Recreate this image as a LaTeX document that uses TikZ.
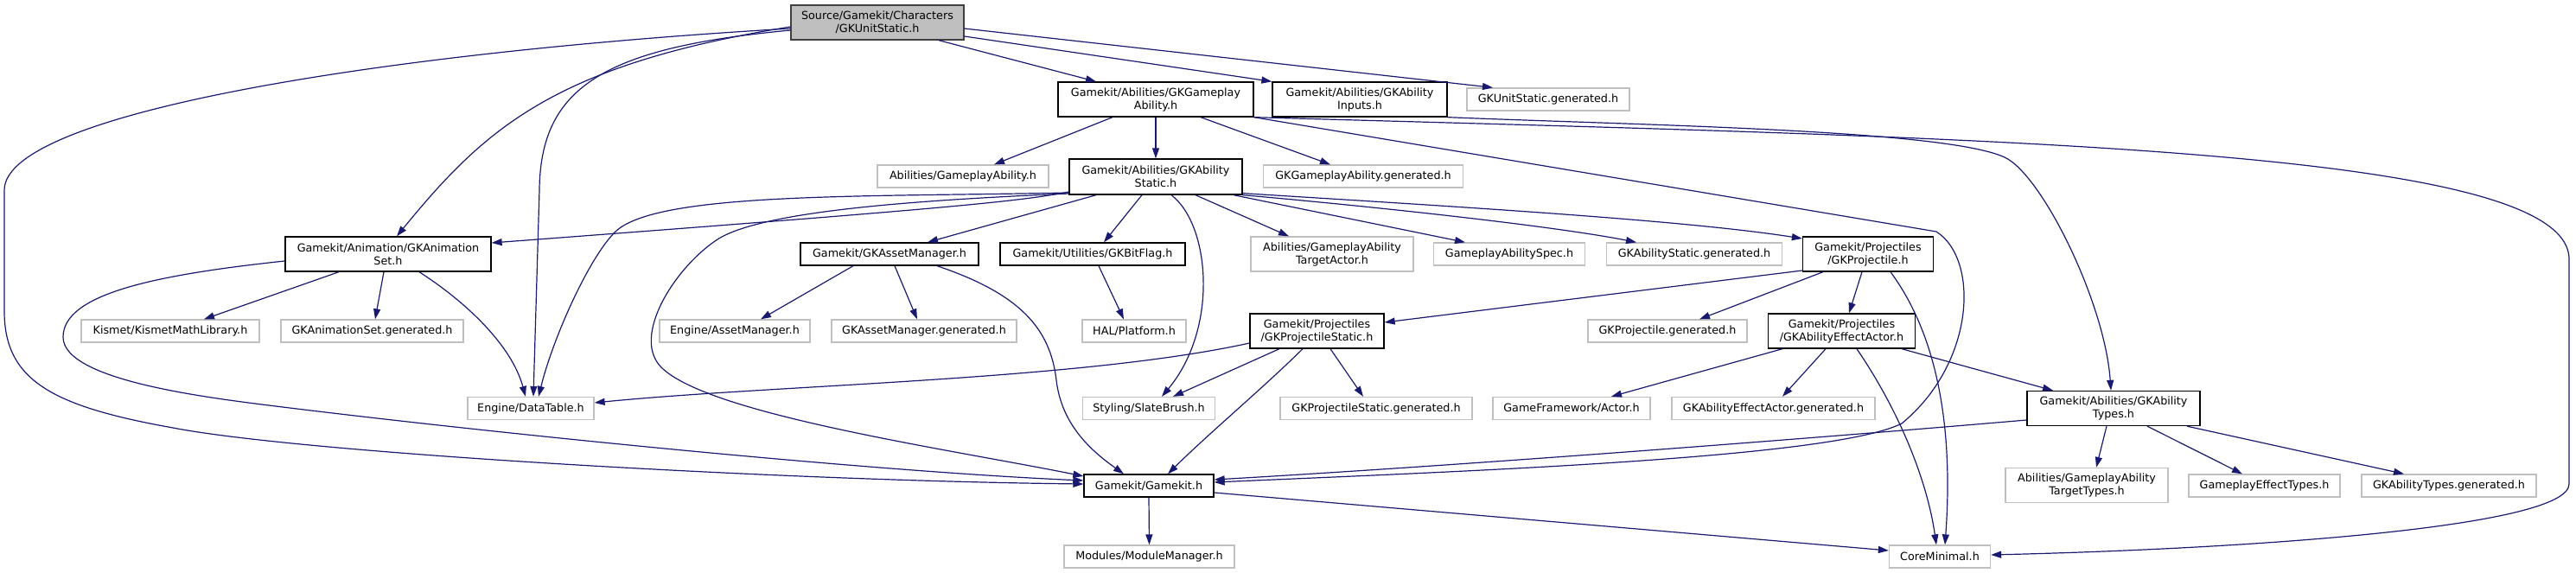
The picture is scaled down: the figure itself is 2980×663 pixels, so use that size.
\documentclass[tikz,border=0pt]{standalone}
\usepackage{fontspec}
\setmainfont{DejaVu Sans}
\usetikzlibrary{arrows.meta}
\definecolor{edgeblue}{HTML}{191970}
\definecolor{extgray}{HTML}{BFBFBF}
\definecolor{rootborder}{HTML}{404040}
\tikzset{
 box/.style={rectangle, inner sep=0pt, align=center, font=\fontsize{12.75pt}{15pt}\selectfont, fill=white, line width=1.3pt},
 proj/.style={box, draw=black},
 ext/.style={box, draw=extgray},
 root/.style={box, draw=rootborder, fill=extgray},
 one/.style={minimum height=26pt},
 two/.style={minimum height=40pt},
 edge/.style={draw=edgeblue, line width=1.2pt, -{Triangle[length=12pt,width=8pt]}},
}
\begin{document}
\begin{tikzpicture}[x=1pt,y=-1pt]
\useasboundingbox (0,0) rectangle (2980,663);
% nodes
\node[root,two,minimum width=200pt] (n0) at (1015,26) {Source/Gamekit/Characters\\/GKUnitStatic.h};
\node[proj,two,minimum width=226pt] (n1) at (1337,115) {Gamekit/Abilities/GKGameplay\\Ability.h};
\node[proj,two,minimum width=202pt] (n2) at (1573,115) {Gamekit/Abilities/GKAbility\\Inputs.h};
\node[ext,one,minimum width=188pt] (n3) at (1791,115) {GKUnitStatic.generated.h};
\node[ext,one,minimum width=198pt] (n4) at (1114,204) {Abilities/GameplayAbility.h};
\node[proj,minimum height=41pt,minimum width=200pt] (n5) at (1337,204.5) {Gamekit/Abilities/GKAbility\\Static.h};
\node[ext,one,minimum width=231pt] (n6) at (1577,204) {GKGameplayAbility.generated.h};
\node[proj,two,minimum width=238pt] (n7) at (449,294) {Gamekit/Animation/GKAnimation\\Set.h};
\node[proj,one,minimum width=206pt] (n8) at (1029,294) {Gamekit/GKAssetManager.h};
\node[proj,one,minimum width=214pt] (n9) at (1264,294) {Gamekit/Utilities/GKBitFlag.h};
\node[ext,two,minimum width=188pt] (n10) at (1541,294) {Abilities/GameplayAbility\\TargetActor.h};
\node[ext,one,minimum width=175pt] (n11) at (1746,294) {GameplayAbilitySpec.h};
\node[ext,one,minimum width=203pt] (n12) at (1960,294) {GKAbilityStatic.generated.h};
\node[proj,two,minimum width=151pt] (n13) at (2161,294) {Gamekit/Projectiles\\/GKProjectile.h};
\node[ext,one,minimum width=206pt] (n14) at (197,383) {Kismet/KismetMathLibrary.h};
\node[ext,one,minimum width=211pt] (n15) at (430.5,383) {GKAnimationSet.generated.h};
\node[ext,one,minimum width=174pt] (n16) at (850,383) {Engine/AssetManager.h};
\node[ext,one,minimum width=214pt] (n17) at (1069,383) {GKAssetManager.generated.h};
\node[ext,one,minimum width=120pt] (n18) at (1312,383) {HAL/Platform.h};
\node[proj,two,minimum width=155pt] (n19) at (1523.5,383) {Gamekit/Projectiles\\/GKProjectileStatic.h};
\node[ext,one,minimum width=184pt] (n20) at (1929,383) {GKProjectile.generated.h};
\node[proj,two,minimum width=170pt] (n21) at (2130.5,383) {Gamekit/Projectiles\\/GKAbilityEffectActor.h};
\node[ext,one,minimum width=146pt] (n22) at (614,472.5) {Engine/DataTable.h};
\node[ext,one,minimum width=153pt] (n23) at (1329,472.5) {Styling/SlateBrush.h};
\node[ext,one,minimum width=222pt] (n24) at (1592,472.5) {GKProjectileStatic.generated.h};
\node[ext,one,minimum width=182pt] (n25) at (1818,472.5) {GameFramework/Actor.h};
\node[ext,one,minimum width=235pt] (n26) at (2051.5,472.5) {GKAbilityEffectActor.generated.h};
\node[proj,two,minimum width=200pt] (n27) at (2445,472.5) {Gamekit/Abilities/GKAbility\\Types.h};
\node[proj,one,minimum width=150pt] (n28) at (1329,562) {Gamekit/Gamekit.h};
\node[ext,two,minimum width=188pt] (n29) at (2414,561.5) {Abilities/GameplayAbility\\TargetTypes.h};
\node[ext,one,minimum width=175pt] (n30) at (2619.5,562) {GameplayEffectTypes.h};
\node[ext,one,minimum width=202pt] (n31) at (2833,562) {GKAbilityTypes.generated.h};
\node[ext,one,minimum width=197pt] (n32) at (1329.5,644) {Modules/ModuleManager.h};
\node[ext,one,minimum width=117pt] (n33) at (2244,644) {CoreMinimal.h};
% edges from Source
\draw[edge] ([xshift=71pt]n0.south) -- ([xshift=-69pt]n1.north);
\draw[edge] ([yshift=-16pt]n0.east) -- (n2.north west);
\draw[edge] ([yshift=-7pt]n0.east) -- ([xshift=-64pt]n3.north);
\draw[edge] ([yshift=-5pt]n0.west) .. controls (640,75) and (560,150) .. ([xshift=10pt]n7.north);
\draw[edge] ([yshift=-9pt]n0.west) .. controls (700,55) and (625,100) .. (624,220) -- ([xshift=3pt]n22.north);
\draw[edge] ([yshift=-7pt]n0.west) .. controls (450,60) and (5,130) .. (5,220) -- (5,360)
  .. controls (5,440) and (60,470) .. (200,495) .. controls (350,524) and (900,556) .. ([yshift=2pt]n28.west);
% edges from GKGameplayAbility
\draw[edge] (n1.south east) .. controls (2300,160) and (2972,170) .. (2972,300) -- (2972,560)
  .. controls (2972,610) and (2600,635) .. ([yshift=2pt]n33.east);
\draw[edge] (n1.south east) -- (2240,268) .. controls (2290,300) and (2285,420) .. (2200,490)
  .. controls (2120,530) and (1700,545) .. ([yshift=4pt]n28.east);
\draw[edge] ([xshift=-50pt]n1.south) -- ([xshift=36pt]n4.north);
\draw[edge] (n1.south) -- (n5.north);
\draw[edge] ([xshift=52pt]n1.south) -- ([xshift=-38pt]n6.north);
% edge from GKAbilityInputs
\draw[edge] (n2.south east) .. controls (1900,145) and (2250,150) .. (2319,182)
  .. controls (2362,202) and (2435,350) .. ([xshift=-3pt]n27.north);
% edges from GKAbilityStatic
\draw[edge] ([yshift=-17.5pt]n5.west) .. controls (1180,233) and (1100,241) .. ([yshift=13pt]n7.east);
\draw[edge] ([yshift=-18.5pt]n5.west) .. controls (1000,228) and (760,222) .. (712,268)
  .. controls (682,297) and (640,390) .. ([xshift=9pt]n22.north);
\draw[edge] ([yshift=-19.5pt]n5.west) .. controls (1050,232) and (880,245) .. (830,277)
  .. controls (780,310) and (730,390) .. (765,425) .. controls (820,480) and (1100,520) .. ([yshift=11pt]n28.west);
\draw[edge] ([xshift=-69pt]n5.south) -- ([xshift=44pt]n8.north);
\draw[edge] ([xshift=-16pt]n5.south) -- ([xshift=13pt]n9.north);
\draw[edge] ([xshift=18pt]n5.south) .. controls (1400,260) and (1410,380) .. ([xshift=15pt]n23.north);
\draw[edge] ([xshift=46pt]n5.south) -- ([xshift=-50pt]n10.north);
\draw[edge] ([xshift=90pt]n5.south) -- ([xshift=-51pt]n11.north);
\draw[edge] (n5.south east) .. controls (1600,240) and (1800,262) .. ([xshift=-67pt]n12.north);
\draw[edge] ([yshift=2pt]n5.south east) .. controls (1700,240) and (1950,255) .. ([yshift=18pt]n13.west);
% edges from GKAnimationSet
\draw[edge] ([xshift=-57pt]n7.south) -- ([xshift=39pt]n14.north);
\draw[edge] ([xshift=-5pt]n7.south) -- ([xshift=3.5pt]n15.north);
\draw[edge] ([xshift=36pt]n7.south) .. controls (540,350) and (592,400) .. ([xshift=-6pt]n22.north);
\draw[edge] ([yshift=-8pt]n7.west) .. controls (180,318) and (73,340) .. (73,390)
  .. controls (73,440) and (239,460) .. (319,470) .. controls (560,500) and (1000,545) .. ([yshift=6pt]n28.west);
% edges from GKAssetManager
\draw[edge] ([xshift=-42pt]n8.south) -- ([xshift=30pt]n16.north);
\draw[edge] ([xshift=6pt]n8.south) -- ([xshift=-8pt]n17.north);
\draw[edge] ([xshift=55pt]n8.south) .. controls (1180,340) and (1215,380) .. (1222,440)
  .. controls (1228,490) and (1260,520) .. ([xshift=-29pt]n28.north);
% edge from GKBitFlag
\draw[edge] ([xshift=7pt]n9.south) -- ([xshift=-12pt]n18.north);
% edges from GKProjectile
\draw[edge] ([yshift=-19pt]n13.west) -- ([yshift=10pt]n19.east);
\draw[edge] ([xshift=-52pt]n13.south) -- ([xshift=37pt]n20.north);
\draw[edge] ([xshift=-7pt]n13.south) -- ([xshift=8.5pt]n21.north);
\draw[edge] ([xshift=26pt]n13.south) .. controls (2250,400) and (2258,520) .. ([xshift=6pt]n33.north);
% edges from GKProjectileStatic
\draw[edge] ([yshift=-14pt]n19.west) .. controls (1250,440) and (900,445) .. ([yshift=6.5pt]n22.east);
\draw[edge] ([xshift=-43.5pt]n19.south) -- ([xshift=28pt]n23.north);
\draw[edge] ([xshift=-16.5pt]n19.south) .. controls (1460,450) and (1400,500) .. ([xshift=22pt]n28.north);
\draw[edge] ([xshift=15.5pt]n19.south) -- ([xshift=-15pt]n24.north);
% edges from GKAbilityEffectActor
\draw[edge] ([xshift=17.5pt]n21.south) .. controls (2200,480) and (2230,560) .. ([xshift=-4pt]n33.north);
\draw[edge] ([xshift=-68.5pt]n21.south) -- ([xshift=46pt]n25.north);
\draw[edge] ([xshift=-18.5pt]n21.south) -- ([xshift=10.5pt]n26.north);
\draw[edge] ([xshift=69.5pt]n21.south) -- ([xshift=-70pt]n27.north);
% edges from GKAbilityTypes
\draw[edge] ([yshift=-13.5pt]n27.west) .. controls (2100,507) and (1700,538) .. ([yshift=7pt]n28.east);
\draw[edge] ([xshift=-8pt]n27.south) -- ([xshift=11pt]n29.north);
\draw[edge] ([xshift=39pt]n27.south) -- ([xshift=-25.5pt]n30.north);
\draw[edge] ([xshift=85pt]n27.south) -- ([xshift=-52pt]n31.north);
% edges from Gamekit.h
\draw[edge] (n28.south) -- (n32.north);
\draw[edge] ([yshift=-8pt]n28.east) -- ([yshift=7pt]n33.west);
\end{tikzpicture}
\end{document}
